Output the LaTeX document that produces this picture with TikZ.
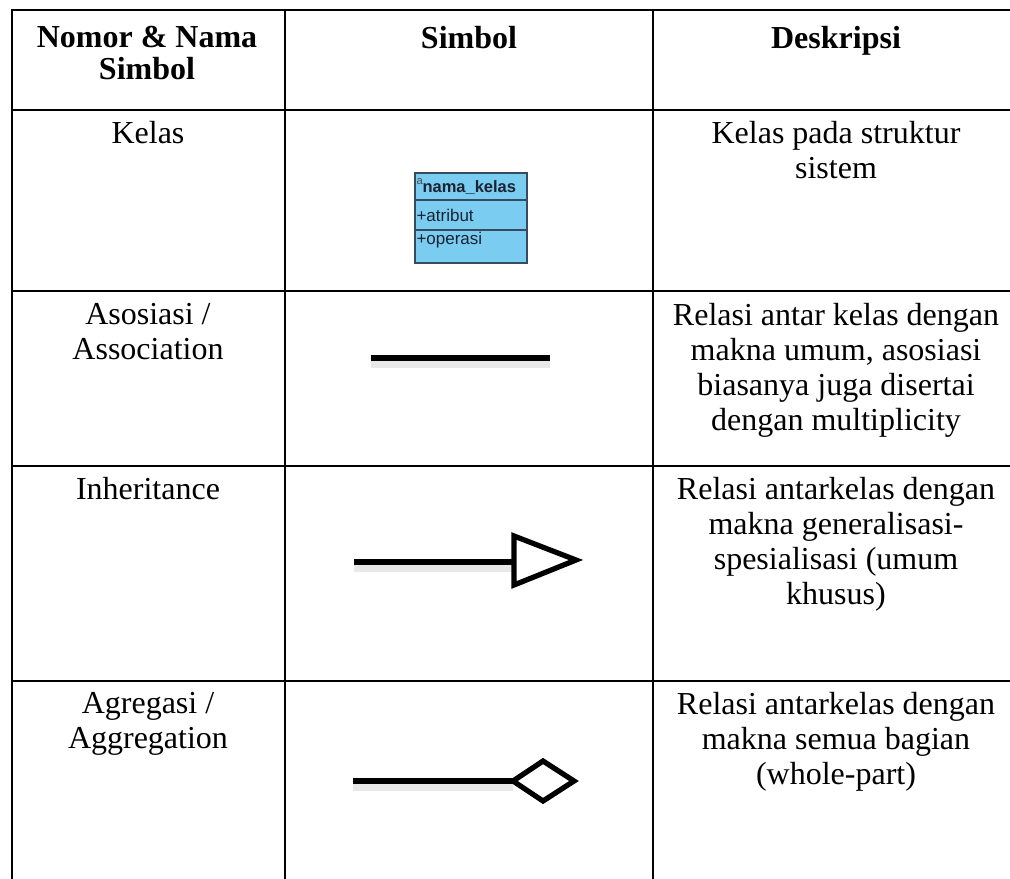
\documentclass[tikz,border=0pt]{standalone}
\usepackage{fontspec}
\setmainfont{Liberation Serif}
\newfontfamily\umlfont{Liberation Sans}
\definecolor{umlblue}{RGB}{122,204,240}
\definecolor{umlborder}{RGB}{55,75,95}
\definecolor{umltext}{RGB}{25,35,50}
\begin{document}
\begin{tikzpicture}[x=0.4pt,y=-0.4pt,
  grid/.style={line width=1.1pt, line cap=rect},
  txt/.style={anchor=north, inner sep=0pt, align=center, font=\fontsize{12.8}{14}\selectfont},
  hdr/.style={anchor=north, inner sep=0pt, align=center, font=\fontsize{12.8}{12.8}\selectfont\bfseries},
  symline/.style={line width=2.1pt, line join=miter},
  symshadow/.style={line width=4pt, black!9},
  umltxt/.style={anchor=base west, inner sep=0pt, text=umltext, font=\umlfont\fontsize{6.8}{7}\selectfont}]
\useasboundingbox (0,0) rectangle (1010,878);
\clip (0,0) rectangle (1010,878);

% table grid
\draw[grid] (12,10) -- (1019,10);
\draw[grid] (12,110) -- (1019,110);
\draw[grid] (12,291) -- (1019,291);
\draw[grid] (12,466) -- (1019,466);
\draw[grid] (12,681) -- (1019,681);
\draw[grid] (12,900) -- (1019,900);
\draw[grid] (12,10) -- (12,900);
\draw[grid] (285,10) -- (285,900);
\draw[grid] (653,10) -- (653,900);
\draw[grid] (1019,10) -- (1019,900);

% header
\node[hdr] (h1) at (147,26) {Nomor \& Nama\\Simbol};
\node[hdr] (h2) at (469,26) {Simbol};
\node[hdr] (h3) at (836,26) {Deskripsi};

% row 1
\node[txt] (r1a) at (148,121) {Kelas};
\node[txt] (r1c) at (836,121) {Kelas pada struktur\\sistem};
\draw[fill=umlblue, draw=umlborder, line width=0.6pt] (415,173) rectangle (527,263);
\draw[draw=umlborder, line width=0.6pt] (415,200) -- (527,200);
\draw[draw=umlborder, line width=0.6pt] (415,230) -- (527,230);
\node[anchor=base west, inner sep=0pt, text=black!70, font=\umlfont\fontsize{4.5}{5}\selectfont] (icon) at (416,185) {a};
\node[umltxt, font=\umlfont\bfseries\fontsize{6.6}{7}\selectfont] (cname) at (422,193) {nama\_kelas};
\node[umltxt] (cattr) at (416,222) {+atribut};
\node[umltxt] (cop) at (416,245) {+operasi};

% row 2
\node[txt] (r2a) at (148,303) {Asosiasi /\\Association};
\node[txt] (r2c) at (836,303) {Relasi antar kelas dengan\\makna umum, asosiasi\\biasanya juga disertai\\dengan multiplicity};
\coordinate (asA) at (371,358);
\coordinate (asB) at (550,358);
\draw[symshadow] ([yshift=-1.8pt]asA) -- ([yshift=-1.8pt]asB);
\draw[symline] (asA) -- (asB);

% row 3
\node[txt] (r3a) at (148,477) {Inheritance};
\node[txt] (r3c) at (836,477) {Relasi antarkelas dengan\\makna generalisasi-\\spesialisasi (umum\\khusus)};
\coordinate (inA) at (354,562);
\coordinate (inB) at (514,562);
\draw[symshadow] ([yshift=-1.8pt]inA) -- ([yshift=-1.8pt]inB);
\draw[symline] (inA) -- (inB);
\draw[symline, fill=white] (514,536) -- (576,560) -- (514,585) -- cycle;

% row 4
\node[txt] (r4a) at (148,692) {Agregasi /\\Aggregation};
\node[txt] (r4c) at (836,692) {Relasi antarkelas dengan\\makna semua bagian\\(whole-part)};
\coordinate (agA) at (353,781);
\coordinate (agB) at (513,781);
\draw[symshadow] ([yshift=-1.8pt]agA) -- ([yshift=-1.8pt]agB);
\draw[symline] (agA) -- (agB);
\draw[symline, fill=white] (agB) -- (543,761) -- (574,781) -- (543,801) -- cycle;
\end{tikzpicture}
\end{document}
